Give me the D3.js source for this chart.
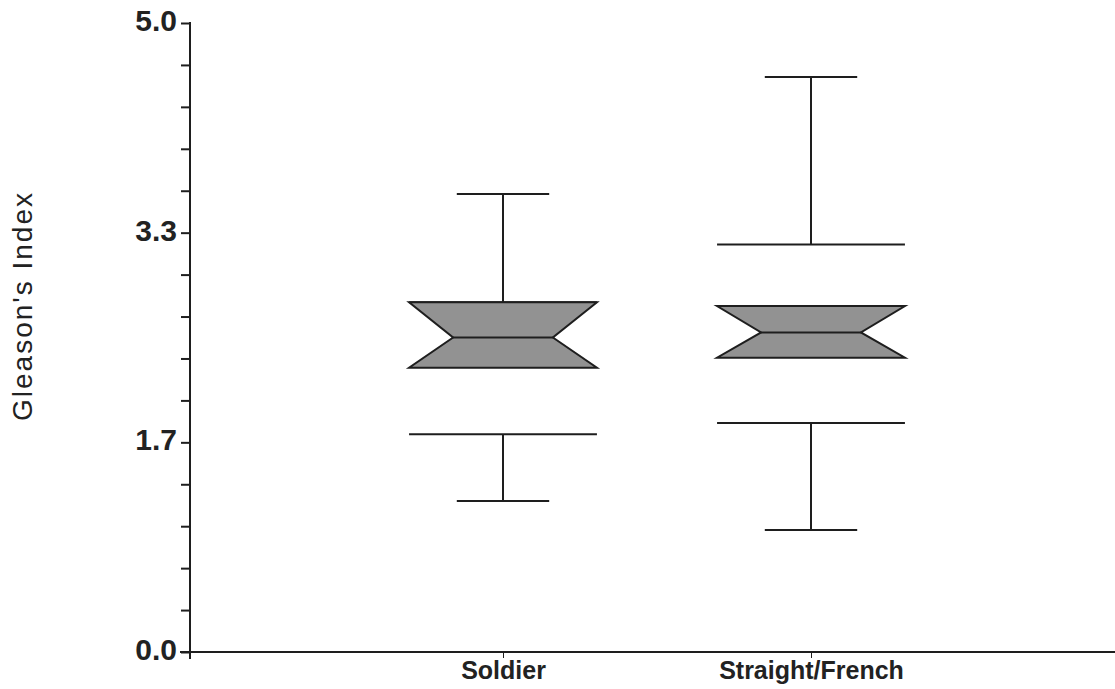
<!DOCTYPE html>
<html><head><meta charset="utf-8">
<script src="https://cdn.jsdelivr.net/npm/d3@7"></script>
<style>body{margin:0;background:#fff;} svg{display:block;}</style>
</head><body>
<svg id="chart" width="1115" height="689"></svg>
<script>
const categories = ["Soldier", "Straight/French"];
const capHigh   = [3.64, 4.57];
const fenceHigh = [2.78, 3.24];
const q3        = [2.78, 2.75];
const median    = [2.50, 2.54];
const q1        = [2.26, 2.34];
const fenceLow  = [1.73, 1.82];
const capLow    = [1.20, 0.97];
const yMajorTicks = [0, 5/3, 10/3, 5];
const yTickLabels = ["0.0", "1.7", "3.3", "5.0"];
const yMinorTicks = d3.range(0, 16).map(i => i / 3);
const yTitle = "Gleason's Index";

const svg = d3.select("#chart");
const y = d3.scaleLinear().domain([0, 5]).range([652, 23]);
const x = d3.scalePoint().domain(categories).range([195, 1119]).padding(1);
const step = x.step();
const axisX = 190;
const ink = "#1e1e1e";

// y axis
const yAxis = d3.axisLeft(y).tickValues(yMinorTicks).tickSize(9).tickFormat("");
const gy = svg.append("g").attr("transform", `translate(${axisX},0)`).call(yAxis);
gy.select(".domain").remove();
gy.selectAll(".tick line").attr("stroke", ink).attr("stroke-width", 2);
svg.append("line").attr("x1", axisX).attr("x2", axisX).attr("y1", y(5) - 1).attr("y2", y(0) + 7)
  .attr("stroke", ink).attr("stroke-width", 2);
svg.append("g").selectAll("text").data(yMajorTicks).join("text")
  .attr("x", 177).attr("y", d => y(d) + 8)
  .attr("text-anchor", "end")
  .attr("font-family", "Liberation Sans, Arial, sans-serif")
  .attr("font-weight", "bold").attr("font-size", 30).attr("fill", "#222")
  .text((d, i) => yTickLabels[i]);

// x axis
svg.append("line").attr("x1", 180).attr("x2", 1115).attr("y1", y(0)).attr("y2", y(0))
  .attr("stroke", ink).attr("stroke-width", 2);
const xAxis = d3.axisBottom(x).tickSize(6).tickPadding(6);
const gx = svg.append("g").attr("transform", `translate(0,${y(0)})`).call(xAxis);
gx.select(".domain").remove();
gx.selectAll(".tick line").attr("stroke", ink).attr("stroke-width", 1);
gx.selectAll(".tick text").attr("font-family", "Liberation Sans, Arial, sans-serif")
  .attr("font-weight", "bold").attr("font-size", 25).attr("fill", "#222").attr("dy", "0.6em");

// y title
svg.append("text").attr("transform", `translate(32,306) rotate(-90)`)
  .attr("text-anchor", "middle")
  .attr("font-family", "Liberation Sans, Arial, sans-serif")
  .attr("font-size", 28).attr("letter-spacing", 2).attr("fill", "#222")
  .text(yTitle);

// boxes
const boxHalf = step * 0.305, notchHalf = step * 0.162, capHalf = step * 0.15;
const g = svg.append("g");
categories.forEach((c, i) => {
  const cx = x(c);
  const line = (x1, x2, y1, y2, w = 2) => g.append("line").attr("x1", x1).attr("x2", x2)
    .attr("y1", y1).attr("y2", y2).attr("stroke", ink).attr("stroke-width", w);
  // upper whisker
  line(cx, cx, y(capHigh[i]), y(fenceHigh[i]));
  line(cx - capHalf, cx + capHalf, y(capHigh[i]), y(capHigh[i]));
  line(cx - boxHalf, cx + boxHalf, y(fenceHigh[i]), y(fenceHigh[i]));
  // lower whisker
  line(cx, cx, y(fenceLow[i]), y(capLow[i]));
  line(cx - capHalf, cx + capHalf, y(capLow[i]), y(capLow[i]));
  line(cx - boxHalf, cx + boxHalf, y(fenceLow[i]), y(fenceLow[i]));
  // notched box
  const pts = [
    [cx - boxHalf, y(q3[i])], [cx + boxHalf, y(q3[i])],
    [cx + notchHalf, y(median[i])], [cx + boxHalf, y(q1[i])],
    [cx - boxHalf, y(q1[i])], [cx - notchHalf, y(median[i])]
  ];
  g.append("polygon").attr("points", pts.map(p => p.join(",")).join(" "))
    .attr("fill", "#929292").attr("stroke", ink).attr("stroke-width", 2)
    .attr("stroke-linejoin", "miter");
  line(cx - notchHalf, cx + notchHalf, y(median[i]), y(median[i]), 2);
});
</script>
</body></html>
